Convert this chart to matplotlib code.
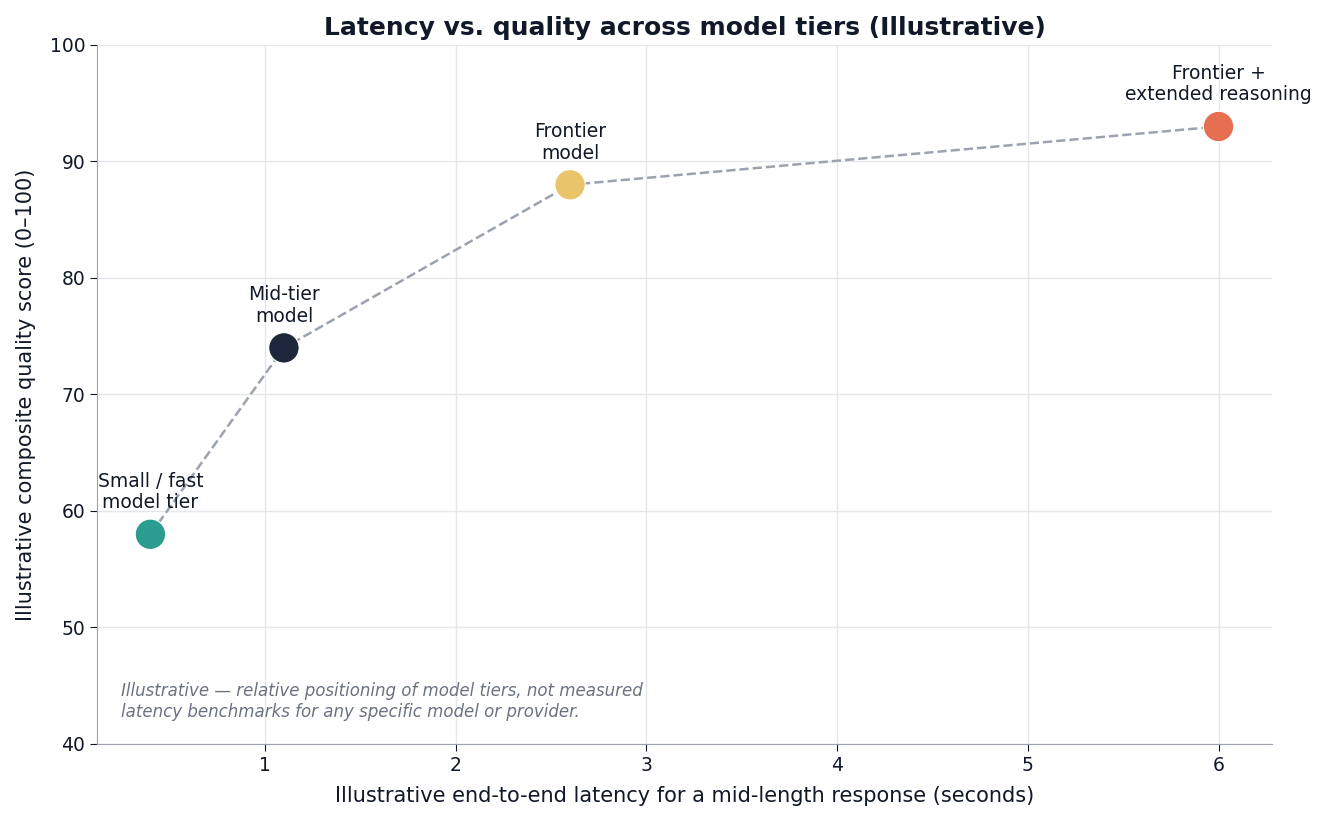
import matplotlib.pyplot as plt

latency = [0.4, 1.1, 2.6, 6.0]
quality = [58, 74, 88, 93]
labels = ['Small / fast\nmodel tier', 'Mid-tier\nmodel', 'Frontier\nmodel', 'Frontier +\nextended reasoning']
colors = ['#2a9d8f', '#1d263b', '#e9c46a', '#e76f51']

dark = '#111827'
plt.rcParams['font.family'] = ['DejaVu Sans']

fig = plt.figure(figsize=(13.27, 8.22), dpi=100)
ax = fig.add_axes([0.0731, 0.0949, 0.8854, 0.8504])

ax.plot(latency, quality, linestyle='--', color='#9ca3af', linewidth=1.8, zorder=2)
ax.scatter(latency, quality, s=480, c=colors, edgecolors='white', linewidths=0.8, zorder=3)

for x, y, t in zip(latency, quality, labels):
    ax.annotate(t, (x, y), xytext=(0, 16), textcoords='offset points',
                ha='center', va='bottom', fontsize=13.5, color=dark, linespacing=1.15)

ax.set_ylim(40, 100)
ax.set_xticks([1, 2, 3, 4, 5, 6])
ax.grid(True, color='#e5e7eb', linewidth=1)
ax.set_axisbelow(True)
for s in ['top', 'right']:
    ax.spines[s].set_visible(False)
for s in ['left', 'bottom']:
    ax.spines[s].set_color('#9ca3af')
ax.tick_params(colors=dark, labelsize=13.5, length=5)

ax.set_title('Latency vs. quality across model tiers (Illustrative)', fontsize=18,
             fontweight='bold', color=dark, pad=7)
ax.set_xlabel('Illustrative end-to-end latency for a mid-length response (seconds)', fontsize=15,
              color=dark, labelpad=8)
ax.set_ylabel('Illustrative composite quality score (0\u2013100)', fontsize=15, color=dark, labelpad=10)

ax.text(0.02, 0.033, 'Illustrative \u2014 relative positioning of model tiers, not measured\n'
        'latency benchmarks for any specific model or provider.',
        transform=ax.transAxes, fontsize=12, style='italic', color='#6b7280', va='bottom')

fig.savefig('out.png', dpi=100)
